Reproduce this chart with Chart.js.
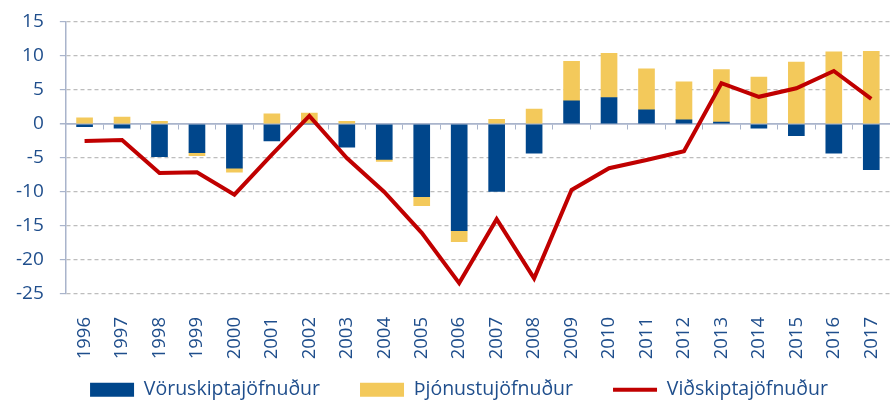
<!DOCTYPE html>
<html>
<head>
<meta charset="utf-8">
<script src="https://cdn.jsdelivr.net/npm/chart.js@4/dist/chart.umd.min.js"></script>
<style>
  html, body { margin: 0; padding: 0; background: #fff; }
  #wrap { width: 890px; height: 402px; }
</style>
</head>
<body>
<div id="wrap"><canvas id="chart" width="890" height="402"></canvas></div>
<script>
const years = ['1996','1997','1998','1999','2000','2001','2002','2003','2004','2005','2006',
               '2007','2008','2009','2010','2011','2012','2013','2014','2015','2016','2017'];
const voruskipti = [-0.4, -0.6, -4.8, -4.2, -6.5, -2.5, 0.0, -3.4, -5.2, -10.7, -15.7,
                    -9.9, -4.3, 3.4, 3.9, 2.1, 0.6, 0.3, -0.6, -1.7, -4.3, -6.7];
const thjonusta = [0.9, 1.0, 0.4, -0.45, -0.6, 1.5, 1.6, 0.4, -0.3, -1.3, -1.6,
                   0.7, 2.2, 5.8, 6.5, 6.0, 5.6, 7.7, 6.9, 9.1, 10.6, 10.7];
const vidskipti = [-2.5, -2.35, -7.2, -7.1, -10.4, -4.5, 1.2, -5.0, -10.0, -16.0, -23.4,
                   -14.0, -22.7, -9.7, -6.5, -5.3, -4.0, 6.0, 4.0, 5.25, 7.8, 3.7];
const yTicks = [15, 10, 5, 0, -5, -10, -15, -20, -25];

const textColor = '#1F4E8C';
const axisColor = '#A9B4CB';
const fontFamily = '"Open Sans", sans-serif';

// legend keeps wide gaps between items (padding 40) but only takes a thin strip
// of layout space; move it up so the items sit where the original has them
const legendPlace = {
  id: 'legendPlace',
  afterLayout(chart) {
    const lg = chart.legend;
    if (!lg) return;
    lg.top = 340;
    lg.height = 70;
    lg.bottom = lg.top + lg.height;
    lg.left += 14;
    lg.right += 14;
  }
};

const noSidePad = axis => { axis.paddingLeft = 0; axis.paddingRight = 0; };

const data = {
  labels: years,
  datasets: [
    {
      type: 'bar',
      label: 'Vöruskiptajöfnuður',
      data: voruskipti,
      backgroundColor: '#00468B',
      borderWidth: 0,
      pointStyle: 'rect',
      stack: 'bars',
      barThickness: 16,
      order: 2
    },
    {
      type: 'bar',
      label: 'Þjónustujöfnuður',
      data: thjonusta,
      backgroundColor: '#F3C95B',
      borderWidth: 0,
      pointStyle: 'rect',
      stack: 'bars',
      barThickness: 16,
      order: 2
    },
    {
      type: 'line',
      label: 'Viðskiptajöfnuður',
      data: vidskipti,
      borderColor: '#C00000',
      backgroundColor: '#C00000',
      borderWidth: 4,
      pointRadius: 0,
      pointStyle: 'line',
      tension: 0,
      stack: 'line',
      order: 1
    }
  ]
};

const config = {
  type: 'bar',
  data: data,
  plugins: [legendPlace],
  options: {
    responsive: false,
    animation: false,
    layout: { padding: { left: 0, right: 0, top: 22, bottom: 0 } },
    plugins: {
      tooltip: { enabled: false },
      legend: {
        position: 'bottom',
        maxHeight: 36,
        labels: {
          usePointStyle: true,
          pointStyleWidth: 44,
          boxHeight: 14,
          padding: 40,
          color: textColor,
          font: { family: fontFamily, size: 19.5 },
          sort: (a, b) => a.datasetIndex - b.datasetIndex
        }
      }
    },
    scales: {
      x: {
        stacked: true,
        grid: { display: false },
        border: { display: false },
        ticks: {
          color: textColor,
          font: { family: fontFamily, size: 18.5 },
          maxRotation: 90,
          minRotation: 90,
          padding: 15
        },
        afterFit: axis => { axis.height = 72; noSidePad(axis); }
      },
      x0: {
        position: { y: 0 },
        labels: years,
        grid: {
          offset: true,
          drawOnChartArea: false,
          drawTicks: true,
          tickLength: 5,
          color: axisColor
        },
        border: { display: true, color: axisColor, width: 1.5 },
        ticks: { display: false },
        afterFit: noSidePad
      },
      y: {
        stacked: true,
        min: -25,
        max: 15,
        afterBuildTicks: axis => { axis.ticks = yTicks.map(v => ({ value: v })); },
        afterFit: axis => { axis.paddingTop = 0; },
        grid: {
          color: ctx => ctx.tick && ctx.tick.value === 0 ? axisColor : '#BDBDBD',
          lineWidth: ctx => ctx.tick && ctx.tick.value === 0 ? 1.5 : 1.2,
          tickLength: 6,
          tickColor: axisColor
        },
        border: {
          display: true,
          color: axisColor,
          width: 1.5,
          dash: ctx => ctx.tick && ctx.tick.value === 0 ? [] : [4, 3]
        },
        ticks: {
          color: textColor,
          font: { family: fontFamily, size: 19 },
          padding: 16
        }
      }
    }
  }
};

new Chart(document.getElementById('chart'), config);
</script>
</body>
</html>
